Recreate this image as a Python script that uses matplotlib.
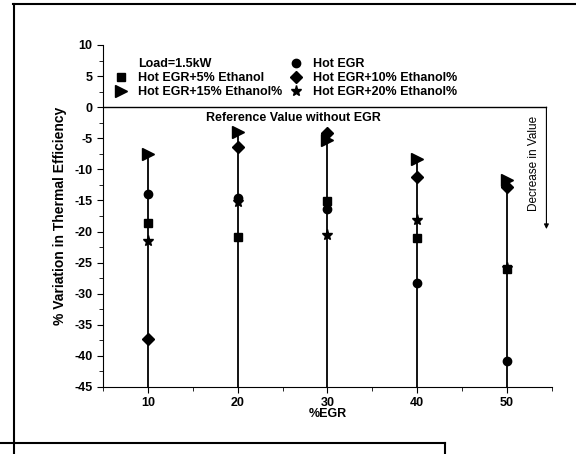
import matplotlib.pyplot as plt
from matplotlib.lines import Line2D

plt.rcParams['font.family'] = ['Liberation Sans', 'DejaVu Sans']
plt.rcParams['font.weight'] = 'bold'
plt.rcParams['axes.unicode_minus'] = False

egr = [10, 20, 30, 40, 50]
hot_egr = [-14.0, -14.6, -16.4, -28.3, -40.9]
eth5 = [-18.7, -20.9, -15.1, -21.0, -26.0]
eth10 = [-37.3, -6.4, -4.2, -11.2, -12.8]
eth15 = [-7.6, -4.0, -5.2, -8.4, -11.7]
eth20 = [-21.5, -15.3, -20.5, -18.1, -25.9]

fig = plt.figure(figsize=(5.76, 4.54), dpi=100)
ax = fig.add_axes([0.179, 0.1476, 0.779, 0.7533])

# stems from bottom up to the highest point at each EGR
tops = [max(v) for v in zip(hot_egr, eth5, eth10, eth15, eth20)]
ax.vlines(egr, -45, tops, color='black', lw=1.3, zorder=1)

ax.plot(egr, hot_egr, 'o', color='black', ms=6, label='Hot EGR')
ax.plot(egr, eth5, 's', color='black', ms=5.5, label='Hot EGR+5% Ethanol')
ax.plot(egr, eth10, 'D', color='black', ms=6.5, label='Hot EGR+10% Ethanol%')
ax.plot(egr, eth15, '>', color='black', ms=8, label='Hot EGR+15% Ethanol%')
ax.plot(egr, eth20, '*', color='black', ms=8, label='Hot EGR+20% Ethanol%')

ax.plot([5, 54.4], [0, 0], color='black', lw=1)
ax.annotate('', xy=(54.4, -19.6), xytext=(54.4, 0),
            arrowprops=dict(arrowstyle='-|>', color='black', lw=0.8,
                            mutation_scale=7, shrinkA=0, shrinkB=0))
ax.text(53.0, -9, 'Decrease in Value', rotation=90, fontsize=8.5,
        fontweight='normal', ha='center', va='center')
ax.text(26.2, -1.8, 'Reference Value without EGR', fontsize=9,
        ha='center', va='center')

ax.set_xlim(5, 55)
ax.set_ylim(-45, 10)
ax.set_xticks(egr)
ax.set_xticks([5, 15, 25, 35, 45, 55], minor=True)
ax.set_yticks(range(-45, 11, 5))
ax.set_yticks([v + 2.5 for v in range(-45, 10, 5)], minor=True)
ax.spines['top'].set_visible(False)
ax.spines['right'].set_visible(False)
ax.tick_params(axis='both', labelsize=9, width=0.8, direction='out')
ax.tick_params(which='major', length=4)
ax.tick_params(which='minor', length=3)
ax.set_xlabel('%EGR', fontsize=9, fontweight='bold', labelpad=-1)
ax.set_ylabel('% Variation in Thermal Efficiency', fontsize=10,
              fontweight='bold', labelpad=5)

load_handle = Line2D([], [], linestyle='none', marker=None)
h, l = ax.get_legend_handles_labels()
handles = [load_handle, h[1], h[3], h[0], h[2], h[4]]
labels = ['Load=1.5kW', l[1], l[3], l[0], l[2], l[4]]
ax.legend(handles, labels, ncol=2, frameon=False, fontsize=9,
          loc='upper left', bbox_to_anchor=(-0.005, 0.995), handletextpad=0.6,
          columnspacing=0.3, labelspacing=0.18, handlelength=1.5)

# outer frame lines
fig.add_artist(Line2D([13/576, 1], [1 - 4/454, 1 - 4/454], color='black', lw=1.5))
fig.add_artist(Line2D([14/576, 14/576], [0, 1 - 4/454], color='black', lw=1.5))
fig.add_artist(Line2D([0, 445/576], [1 - 443/454, 1 - 443/454], color='black', lw=1.5))
fig.add_artist(Line2D([445/576, 445/576], [0, 1 - 443/454], color='black', lw=1.5))

fig.savefig('out.png', dpi=100)
